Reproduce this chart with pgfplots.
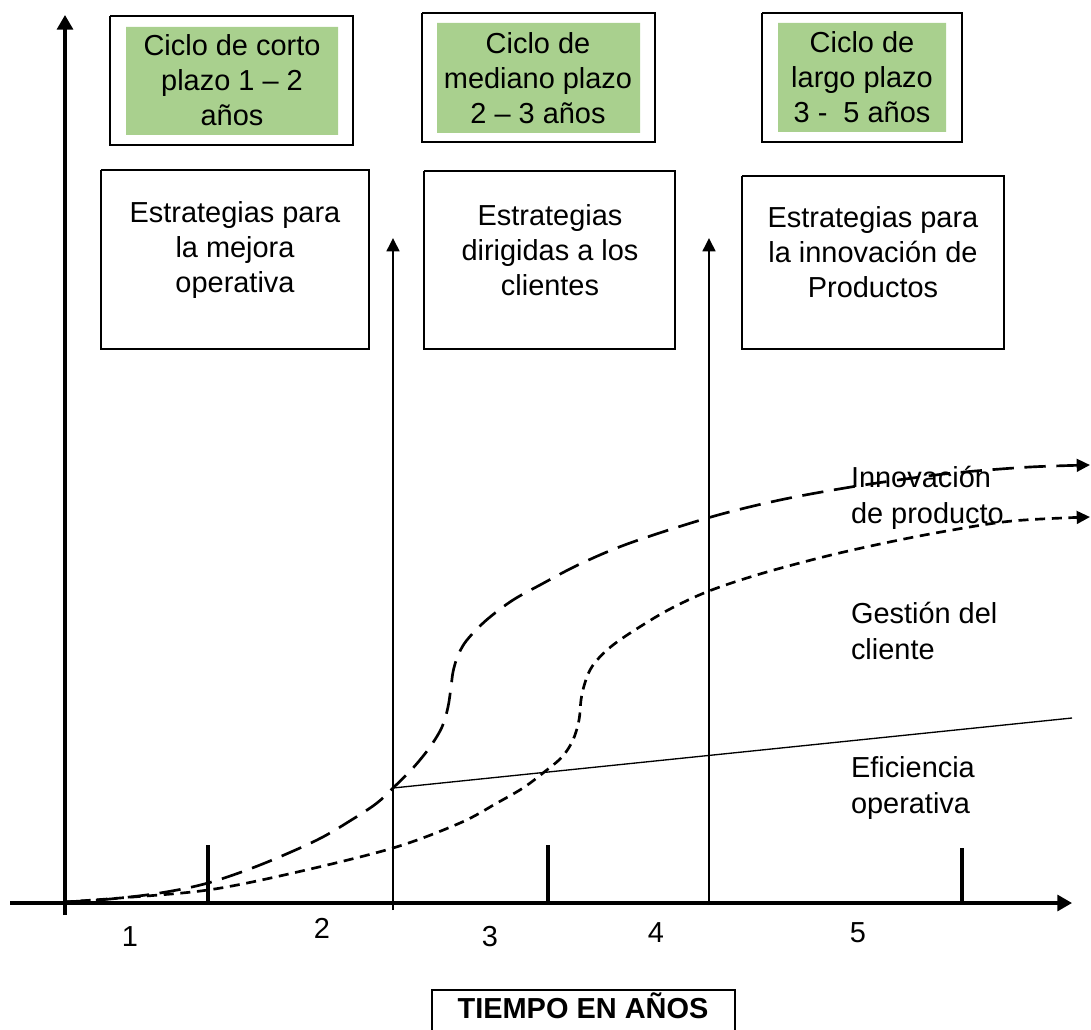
\documentclass[border=0pt]{standalone}
\usepackage{fontspec}
\setmainfont{Liberation Sans}
\usepackage{pgfplots}
\pgfplotsset{compat=1.18}
\usetikzlibrary{arrows.meta}
\definecolor{boxgreen}{RGB}{169,208,142}
\tikzset{txt/.style={inner sep=0pt, outer sep=0pt, font=\fontsize{21.7}{26.5}\selectfont}}
\begin{document}
\begin{tikzpicture}
\begin{axis}[scale only axis, width=818.25pt, height=772.5pt,
  xmin=0, xmax=1091, ymin=0, ymax=1030, y dir=reverse,
  hide axis, clip=false]
% ---- top cycle boxes
\addplot[draw=black, line width=1.3pt] coordinates {(110,16)(353,16)(353,145)(110,145)(110,16)};
\addplot[fill=boxgreen, draw=none] coordinates {(126,27)(338,27)(338,135)(126,135)(126,27)};
\addplot[draw=black, line width=1.3pt] coordinates {(422,13)(655,13)(655,142)(422,142)(422,13)};
\addplot[fill=boxgreen, draw=none] coordinates {(437,23)(640,23)(640,133)(437,133)(437,23)};
\addplot[draw=black, line width=1.3pt] coordinates {(762,13)(962,13)(962,142)(762,142)(762,13)};
\addplot[fill=boxgreen, draw=none] coordinates {(778,23)(946,23)(946,132)(778,132)(778,23)};
\node[txt, align=center] at (axis cs:232,80) {Ciclo de corto\\plazo 1 – 2\\años};
\node[txt, align=center] at (axis cs:538,78) {Ciclo de\\mediano plazo\\2 – 3 años};
\node[txt, align=center] at (axis cs:862,77) {Ciclo de\\largo plazo\\3 -\ \ 5 años};
% ---- strategy boxes
\addplot[draw=black, line width=2.2pt] coordinates {(101,170)(369,170)(369,349)(101,349)(101,170)};
\addplot[draw=black, line width=2.2pt] coordinates {(424,171)(675,171)(675,349)(424,349)(424,171)};
\addplot[draw=black, line width=2.2pt] coordinates {(742,176)(1004,176)(1004,349)(742,349)(742,176)};
\node[txt, align=center] at (axis cs:235,250) {Estrategias para\\la mejora\\operativa};
\node[txt, align=center] at (axis cs:550,250) {Estrategias\\dirigidas a los\\clientes};
\node[txt, align=center] at (axis cs:873,252) {Estrategias para\\la innovación de\\Productos};
% ---- axes
\addplot[line width=2.4pt, -{Triangle[length=11pt,width=12pt]}] coordinates {(65,915)(65,15)};
\addplot[line width=2.4pt, -{Triangle[length=11pt,width=12pt]}] coordinates {(10,903)(1072,903)};
% vertical arrows
\addplot[line width=1.9pt, -{Triangle[length=10pt,width=9.5pt]}] coordinates {(393,910)(393,238)};
\addplot[line width=1.9pt, -{Triangle[length=10pt,width=9.5pt]}] coordinates {(709,905)(709,238)};
% ticks
\addplot[line width=2.8pt] coordinates {(208,845)(208,903)};
\addplot[line width=2.8pt] coordinates {(548,845)(548,903)};
\addplot[line width=2.8pt] coordinates {(962,848)(962,903)};
% ---- solid line (eficiencia operativa)
\addplot[line width=1pt] coordinates {(393,788)(1072,718)};
% ---- long dashed curve
\addplot[line width=2pt, smooth, tension=0.55, dash pattern=on 16pt off 8pt,
  -{Triangle[length=10pt,width=9.5pt]}] coordinates {
(64,902)(110,899)(160,893)(208,883)(260,865)(317,840)(353,819)(377,803)(393,788)(413,768)(430,747)(442,727)(448,707)(451,687)(453,672)(457,658)(464,644)(475,631)(490,617)(513,600)(540,585)(580,564)(630,543)(711,517)(780,500)(851,487)(920,477)(964,472)(1030,467)(1090,465)};
% ---- short dashed curve
\addplot[line width=2pt, smooth, tension=0.55, dash pattern=on 7.5pt off 5pt,
  -{Triangle[length=10pt,width=9.5pt]}] coordinates {
(64,902)(120,898)(208,890)(293,873)(393,848)(460,823)(497,803)(523,788)(543,773)(562,757)(573,740)(579,720)(581,700)(584,686)(589,672)(597,660)(613,645)(638,628)(670,609)(709,591)(760,574)(823,557)(880,544)(941,532)(1012,521)(1090,517)};
% ---- curve labels
\node[txt, anchor=west, align=left] at (axis cs:851,498) {Innovación\\de producto};
\node[txt, anchor=west, align=left] at (axis cs:851,631) {Gestión del\\cliente};
\node[txt, anchor=west, align=left] at (axis cs:851,788) {Eficiencia\\operativa};
% ---- tick labels
\node[txt] at (axis cs:130,937) {1};
\node[txt] at (axis cs:322,928) {2};
\node[txt] at (axis cs:490,937) {3};
\node[txt] at (axis cs:656,933) {4};
\node[txt] at (axis cs:858,933) {5};
% ---- time box
\addplot[draw=black, line width=1.3pt] coordinates {(432,1032)(432,990)(735,990)(735,1032)};
\node[txt, font=\fontsize{21.7}{26.5}\selectfont\bfseries] at (axis cs:583,1006) {TIEMPO EN AÑOS};
\end{axis}
\pgfresetboundingbox
\useasboundingbox (current axis.south west) rectangle (current axis.north east);
\end{tikzpicture}
\end{document}
